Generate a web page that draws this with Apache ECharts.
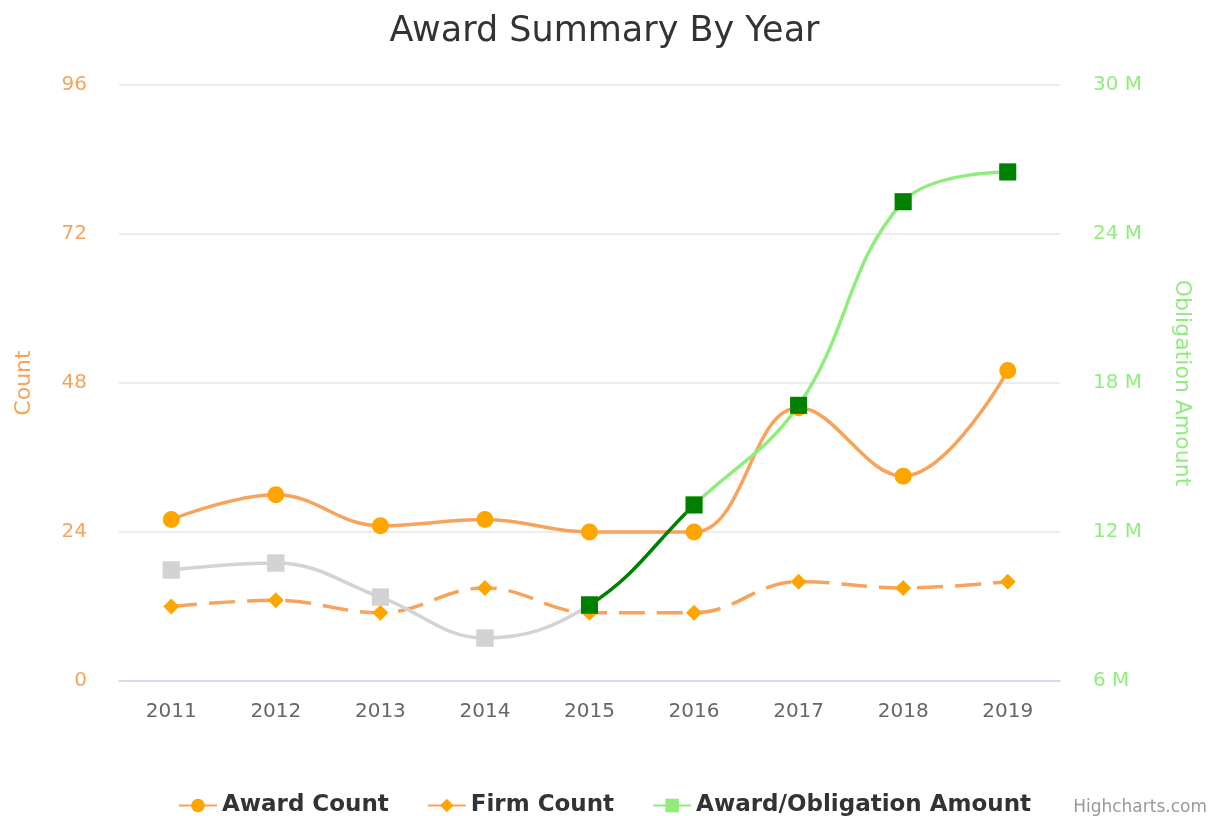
<!DOCTYPE html>
<html>
<head>
<meta charset="utf-8">
<script src="https://cdn.jsdelivr.net/npm/echarts@6/dist/echarts.min.js"></script>
<style>
    html, body { margin: 0; padding: 0; background: #fff; }
    #chart { width: 1209px; height: 816px; }
</style>
</head>
<body>
<div id="chart"></div>
<script>
const years = ['2011', '2012', '2013', '2014', '2015', '2016', '2017', '2018', '2019'];
const awardCount = [26, 30, 25, 26, 24, 24, 44, 33, 50];
const firmCount = [12, 13, 11, 15, 11, 11, 16, 15, 16];
const obligationAmount = [10.47e6, 10.75e6, 9.38e6, 7.73e6, 9.06e6, 13.09e6, 17.1e6, 25.3e6, 26.5e6];
// marker colours per year (grey before 2015, green after)
const obligationMarkerColors = ['#d3d3d3', '#d3d3d3', '#d3d3d3', '#d3d3d3', '#008000', '#008000', '#008000', '#008000', '#008000'];
const countTicks = { min: 0, max: 96, interval: 24 };
const amountTicks = { min: 6e6, max: 30e6, interval: 6e6 };

const font = '"DejaVu Sans", Verdana, sans-serif';
const orange = '#f7a35c';
const markerOrange = '#ffa500';
const lightGreen = '#90ed7d';

let chart = echarts.init(document.getElementById('chart'));

let option = {
    animation: false,
    textStyle: { fontFamily: font },
    title: {
        text: 'Award Summary By Year',
        left: 'center',
        top: 9,
        textStyle: { fontFamily: font, fontSize: 35, fontWeight: 'normal', color: '#333' }
    },
    grid: { left: 119, right: 149, top: 85, bottom: 135 },
    legend: {
        top: 789,
        left: 'center',
        itemWidth: 38,
        itemHeight: 17,
        itemGap: 38,
        textStyle: { fontFamily: font, fontSize: 23, fontWeight: 'bold', color: '#333' },
        data: [
            { name: 'Award Count', lineStyle: { type: 'solid' } },
            { name: 'Firm Count', lineStyle: { type: 'solid' } },
            { name: 'Award/Obligation Amount', itemStyle: { color: lightGreen }, lineStyle: { color: lightGreen } }
        ]
    },
    visualMap: {
        show: false,
        type: 'piecewise',
        seriesIndex: 2,
        dimension: 0,
        pieces: [
            { lt: 4, color: '#d3d3d3' },
            { gte: 4, lt: 5, color: '#008000' },
            { gte: 5, color: lightGreen }
        ]
    },
    xAxis: {
        type: 'category',
        data: years,
        boundaryGap: true,
        axisLine: { lineStyle: { color: '#ccd6eb', width: 1.5 } },
        axisTick: { show: false },
        axisLabel: { fontFamily: font, fontSize: 20, color: '#666', margin: 21 }
    },
    yAxis: [
        {
            type: 'value',
            min: countTicks.min,
            max: countTicks.max,
            interval: countTicks.interval,
            name: 'Count',
            nameLocation: 'middle',
            nameGap: 84,
            nameTextStyle: { fontFamily: font, fontSize: 22, color: orange },
            axisLine: { show: false },
            axisTick: { show: false },
            axisLabel: { fontFamily: font, fontSize: 20, color: orange, margin: 32, padding: [4, 0, 0, 0] },
            splitLine: { lineStyle: { color: '#e6e6e6', width: 1.5 } }
        },
        {
            type: 'value',
            min: amountTicks.min,
            max: amountTicks.max,
            interval: amountTicks.interval,
            name: 'Obligation Amount',
            nameLocation: 'middle',
            nameGap: 111,
            nameRotate: -90,
            nameTextStyle: { fontFamily: font, fontSize: 22, color: lightGreen },
            axisLine: { show: false },
            axisTick: { show: false },
            axisLabel: {
                fontFamily: font, fontSize: 20, color: lightGreen, margin: 33, padding: [4, 0, 0, 0],
                formatter: v => (v / 1e6) + ' M'
            },
            splitLine: { show: false }
        }
    ],
    series: [
        {
            name: 'Award Count',
            type: 'line',
            smooth: 0.4,
            yAxisIndex: 0,
            data: awardCount,
            symbol: 'circle',
            symbolSize: 17,
            itemStyle: { color: markerOrange },
            lineStyle: { color: orange, width: 3.5 },
            z: 3
        },
        {
            name: 'Firm Count',
            type: 'line',
            smooth: 0.4,
            yAxisIndex: 0,
            data: firmCount,
            symbol: 'diamond',
            symbolSize: 16,
            itemStyle: { color: markerOrange },
            lineStyle: { color: orange, width: 3.5, type: [26, 12] },
            z: 2
        },
        {
            name: 'Award/Obligation Amount',
            type: 'line',
            smooth: 0.4,
            yAxisIndex: 1,
            data: obligationAmount,
            symbol: 'rect',
            symbolSize: 17,
            lineStyle: { width: 3.5 },
            z: 4
        },
        {
            name: 'Award/Obligation Amount',
            type: 'scatter',
            yAxisIndex: 1,
            symbol: 'rect',
            symbolSize: 17,
            data: obligationAmount.map((v, i) => ({ value: v, itemStyle: { color: obligationMarkerColors[i], opacity: 1 } })),
            z: 5
        }
    ],
    graphic: [
        {
            type: 'text',
            right: 2,
            bottom: 0,
            style: { text: 'Highcharts.com', fontFamily: font, fontSize: 17, fill: '#999' }
        }
    ]
};

chart.setOption(option);
</script>
</body>
</html>
